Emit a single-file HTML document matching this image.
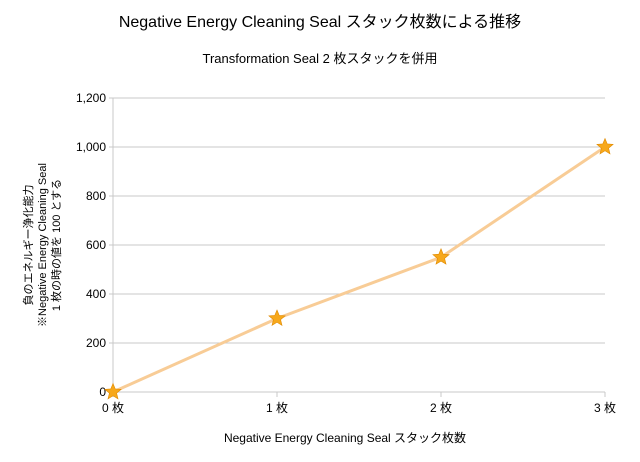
<!DOCTYPE html>
<html><head><meta charset="utf-8"><style>
body{margin:0;background:#fff;}
svg{display:block;font-family:"Liberation Sans","Noto Sans CJK JP",sans-serif;}
</style></head><body>
<svg width="640" height="462" viewBox="0 0 640 462">
<rect width="640" height="462" fill="#fff"/>
<text x="320" y="27" text-anchor="middle" font-size="16" fill="#000">Negative Energy Cleaning Seal  スタック枚数による推移</text>
<text x="320" y="63" text-anchor="middle" font-size="13" fill="#000">Transformation Seal 2 枚スタックを併用</text>
<g id="grid"></g>
<g id="axes"></g>
<g id="series"></g>
<text x="345" y="442" text-anchor="middle" font-size="12">Negative Energy Cleaning Seal  スタック枚数</text>
<g transform="translate(46,245) rotate(-90)">
<text x="0" y="-14" text-anchor="middle" font-size="11">負のエネルギー浄化能力</text>
<text x="0" y="0" text-anchor="middle" font-size="11">※Negative Energy Cleaning Seal</text>
<text x="0" y="14" text-anchor="middle" font-size="11">1 枚の時の値を  100  とする</text>
</g>
</svg>
<script>
const categories=["0 枚","1 枚","2 枚","3 枚"];
const values=[0,300,550,1000];
const yTicks=[0,200,400,600,800,1000,1200];
const yTickLabels=["0","200","400","600","800","1,000","1,200"];
const NS="http://www.w3.org/2000/svg";
const X0=113,X1=605,Y0=392,Y1=98,YMAX=1200;
function xs(i){return X0+(X1-X0)*i/(categories.length-1);}
function ys(v){return Y0-(Y0-Y1)*v/YMAX;}
function mk(tag,attrs,parent){const e=document.createElementNS(NS,tag);for(const k in attrs)e.setAttribute(k,attrs[k]);parent.appendChild(e);return e;}
const grid=document.getElementById('grid'),axes=document.getElementById('axes'),series=document.getElementById('series');
yTicks.forEach((t,i)=>{
 const l=mk('line',{x1:X0-4,x2:X1,y1:ys(t),y2:ys(t),stroke:'#c8c8c8','stroke-width':1},grid);
 
 
 const tx=mk('text',{x:X0-7,y:ys(t)+4,'text-anchor':'end','font-size':12},axes);
 tx.textContent=yTickLabels[i];
 
 
});
mk('line',{x1:X0,x2:X0,y1:Y1,y2:Y0,stroke:'#c8c8c8'},axes);
categories.forEach((c,i)=>{
 mk('line',{x1:xs(i),x2:xs(i),y1:Y0,y2:Y0+5,stroke:'#c8c8c8'},axes);
 const tx=mk('text',{x:xs(i),y:Y0+20,'text-anchor':'middle','font-size':12},axes);
 tx.textContent=c;
 
 
});
const pts=values.map((v,i)=>xs(i)+','+ys(v)).join(' ');
const pl=mk('polyline',{points:pts,fill:'none',stroke:'#f8cc96','stroke-width':3},series);


function star(cx,cy,r){let p=[];for(let k=0;k<10;k++){const a=-Math.PI/2+k*Math.PI/5;const rr=k%2?r*0.45:r;p.push((cx+rr*Math.cos(a)).toFixed(1)+','+(cy+rr*Math.sin(a)).toFixed(1));}return p.join(' ');}
values.forEach((v,i)=>{
 const s=mk('polygon',{points:star(xs(i),ys(v),8.5),fill:'#f7a81b',stroke:'#e08a00','stroke-width':0.6},series);
 
 
});
</script>
</body></html>
